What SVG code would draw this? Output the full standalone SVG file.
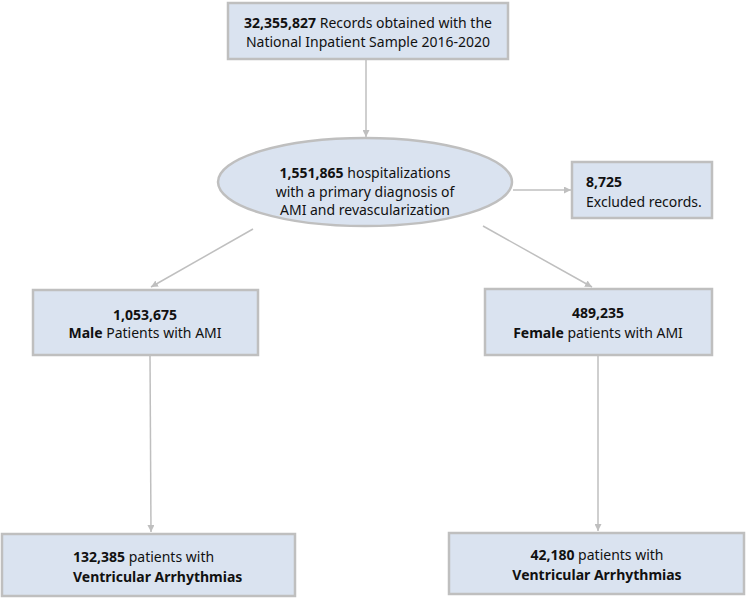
<svg xmlns="http://www.w3.org/2000/svg" width="747" height="599" viewBox="0 0 747 599">
<defs>
<style>
.box{fill:#DAE3F0;stroke:#BFBFBF;stroke-width:2.5}
.t{font-family:"Noto Sans","Open Sans","DejaVu Sans",sans-serif;font-size:14px;fill:#111}
.b{font-weight:bold}
.c{stroke:#BFBFBF;stroke-width:1.5;fill:none;marker-end:url(#ah)}
</style>
<marker id="ah" viewBox="0 0 10 10" refX="10" refY="5" markerWidth="7" markerHeight="7" markerUnits="userSpaceOnUse" orient="auto">
<path d="M0,0 L10,5 L0,10 z" fill="#BFBFBF"/>
</marker>
</defs>
<rect width="747" height="599" fill="#fff"/>
<g id="connectors">
<line class="c" x1="366" y1="59" x2="366" y2="137"/>
<line class="c" x1="513" y1="190" x2="571" y2="190"/>
<line class="c" x1="253" y1="229" x2="151" y2="287"/>
<line class="c" x1="483" y1="226" x2="592" y2="287"/>
<line class="c" x1="150" y1="355" x2="151" y2="532"/>
<line class="c" x1="598" y1="355" x2="598" y2="531"/>
</g>
<g id="n1">
<rect class="box" x="228" y="3" width="280" height="56"/>
<text class="t" x="368" y="28" text-anchor="middle"><tspan class="b">32,355,827</tspan> Records obtained with the</text>
<text class="t" x="368" y="47" text-anchor="middle">National Inpatient Sample 2016-2020</text>
</g>
<g id="n2">
<ellipse cx="365" cy="182" rx="147" ry="44" fill="#DAE3F0" stroke="#BFBFBF" stroke-width="2.5"/>
<text class="t" x="365" y="178" text-anchor="middle"><tspan class="b">1,551,865</tspan> hospitalizations</text>
<text class="t" x="365" y="197" text-anchor="middle">with a primary diagnosis of</text>
<text class="t" x="365" y="215" text-anchor="middle">AMI and revascularization</text>
</g>
<g id="n3">
<rect class="box" x="572" y="162" width="140" height="56"/>
<text class="t b" x="586" y="187">8,725</text>
<text class="t" x="586" y="207">Excluded records.</text>
</g>
<g id="n4">
<rect class="box" x="33" y="290" width="225" height="65"/>
<text class="t b" x="145" y="320" text-anchor="middle">1,053,675</text>
<text class="t" x="145" y="338" text-anchor="middle"><tspan class="b">Male</tspan> Patients with AMI</text>
</g>
<g id="n5">
<rect class="box" x="485" y="289" width="227" height="66"/>
<text class="t b" x="598" y="318" text-anchor="middle">489,235</text>
<text class="t" x="598" y="338" text-anchor="middle"><tspan class="b">Female</tspan> patients with AMI</text>
</g>
<g id="n6">
<rect class="box" x="2" y="534" width="293" height="62"/>
<text class="t" x="73" y="562"><tspan class="b">132,385</tspan> patients with</text>
<text class="t b" x="73" y="582">Ventricular Arrhythmias</text>
</g>
<g id="n7">
<rect class="box" x="449" y="533" width="295" height="61"/>
<text class="t" x="597" y="560" text-anchor="middle"><tspan class="b">42,180</tspan> patients with</text>
<text class="t b" x="597" y="580" text-anchor="middle">Ventricular Arrhythmias</text>
</g>
</svg>
